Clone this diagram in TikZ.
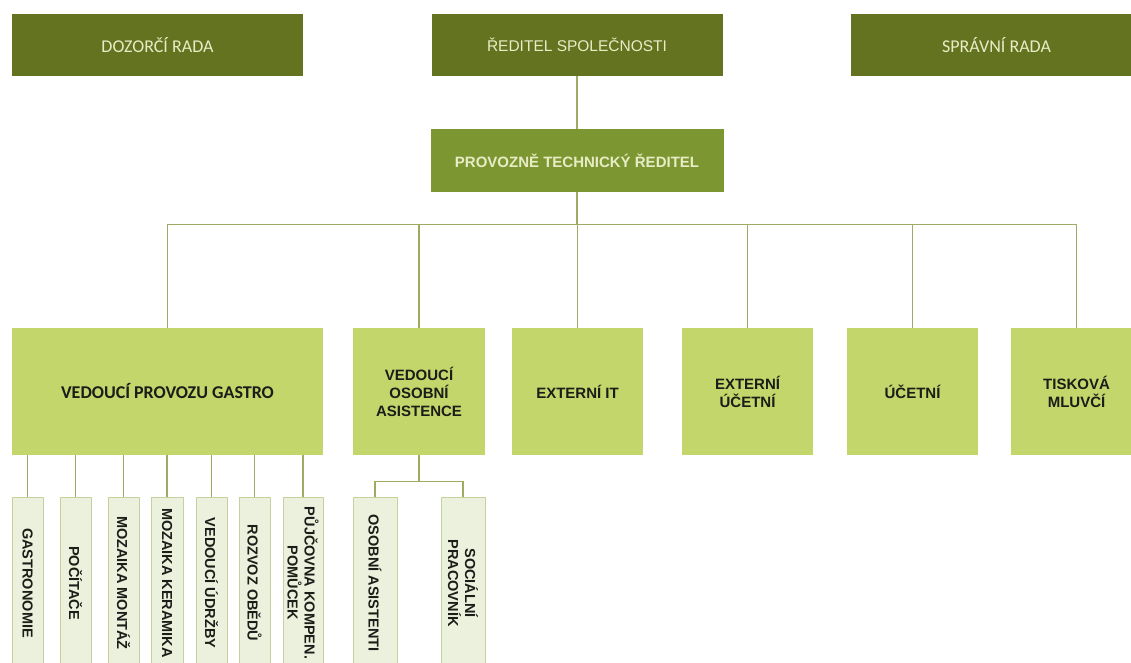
\documentclass[tikz,border=0pt]{standalone}
\usepackage{fontspec}
\setmainfont{Liberation Sans}
\newfontfamily\calibri{Carlito}
\usetikzlibrary{calc}
\definecolor{boarddark}{HTML}{64731F}
\definecolor{boardtext}{HTML}{E8ECC6}
\definecolor{headgreen}{HTML}{7C9731}
\definecolor{deptgreen}{HTML}{C3D66B}
\definecolor{leafgreen}{HTML}{EBF1DC}
\definecolor{leafborder}{HTML}{C6D19E}
\definecolor{darktext}{HTML}{1C1C18}
\definecolor{linegreen}{HTML}{9DAC62}

\begin{document}
\begin{tikzpicture}[x=1pt,y=-1pt,
    conn/.style={draw=linegreen, line width=1.2pt},
    board/.style={fill=boarddark, text=boardtext, inner sep=0pt, minimum width=291pt, minimum height=62pt},
    head/.style={fill=headgreen, text=boardtext, inner sep=0pt, minimum width=293pt, minimum height=63pt, font=\fontsize{15}{17}\selectfont\bfseries},
    dept/.style={fill=deptgreen, text=darktext, inner sep=0pt, minimum width=131pt, minimum height=127pt, align=center, font=\fontsize{15}{18}\selectfont\bfseries},
    leaf/.style={fill=leafgreen, draw=leafborder, text=darktext, inner sep=0pt, rotate=-90, minimum width=172pt, minimum height=31pt, align=center, font=\fontsize{14.5}{17}\selectfont\bfseries}]
    \clip (0,0) rectangle (1131,663); % page size

    \node[board, font=\calibri\fontsize{18}{20}\selectfont] (dozor) at (157.5,45) {DOZORČÍ RADA};
    \node[board, font=\fontsize{15.5}{18}\selectfont] (reditel) at (577,45) {ŘEDITEL SPOLEČNOSTI};
    \node[board, font=\calibri\fontsize{18}{20}\selectfont] (spravni) at (996.5,45) {SPRÁVNÍ RADA};
    \node[head] (ptr) at (577,160.5) {PROVOZNĚ TECHNICKÝ ŘEDITEL};

    \node[dept, minimum width=311pt, font=\calibri\fontsize{18}{20}\selectfont\bfseries] (gastro) at (167.5,391.5) {VEDOUCÍ PROVOZU GASTRO};
    \node[dept, minimum width=132pt] (vedoa) at (419,391.5) {VEDOUCÍ\\OSOBNÍ\\ASISTENCE};
    \node[dept] (extit) at (577.5,391.5) {EXTERNÍ IT};
    \node[dept] (extuc) at (747.5,391.5) {EXTERNÍ\\ÚČETNÍ};
    \node[dept] (ucet) at (912.5,391.5) {ÚČETNÍ};
    \node[dept] (tisk) at (1076.5,391.5) {TISKOVÁ\\MLUVČÍ};

    \draw[conn] (reditel.south) -- (reditel.south |- ptr.north);
    \foreach \n in {gastro,vedoa,extit,extuc,ucet,tisk}{
        \draw[conn] (ptr.south) -- ++(0,32) -| (\n.north);
    }

    % leaves are turned, so .west is their top
    \foreach \x/\w/\n/\t in {27.5/31/gastronomie/GASTRONOMIE, 75.5/31/pocitace/POČÍTAČE,
        123.5/31/montaz/MOZAIKA MONTÁŽ, 167/32/keramika/MOZAIKA KERAMIKA,
        211.5/31/udrzba/VEDOUCÍ ÚDRŽBY, 254.5/31/obedy/ROZVOZ OBĚDŮ,
        303/40/pujcovna/{PŮJČOVNA KOMPEN.\\POMŮCEK}}{
        \node[leaf, minimum height=\w pt] (\n) at (\x,583) {\t};
        \draw[conn] (\n.west) -- (\n.west |- gastro.south);
    }
    \node[leaf, minimum height=44pt] (osobni) at (375,583) {OSOBNÍ ASISTENTI};
    \node[leaf, minimum height=44pt] (socialni) at (463,583) {SOCIÁLNÍ\\PRACOVNÍK};
    \draw[conn] (vedoa.south) -- ++(0,26) -| (osobni.west);
    \draw[conn] (vedoa.south) -- ++(0,26) -| (socialni.west);
\end{tikzpicture}
\end{document}
